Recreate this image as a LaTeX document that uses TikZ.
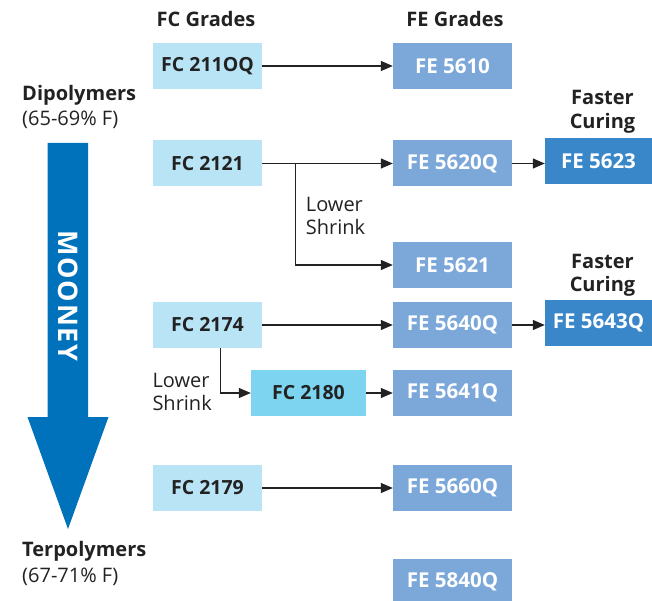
\documentclass[tikz,border=0pt]{standalone}
\usepackage{fontspec}
\setmainfont{Open Sans}
\usetikzlibrary{arrows.meta}
\definecolor{fclight}{HTML}{B8E4F6}
\definecolor{fcmid}{HTML}{7DD4F1}
\definecolor{fegrade}{HTML}{7BA7D9}
\definecolor{fedark}{HTML}{3987C9}
\definecolor{mooneyblue}{HTML}{0071BB}
\definecolor{inkgray}{HTML}{222222}

\begin{document}
\begin{tikzpicture}[x=1pt, y=-1pt]
  \tikzstyle{grade} = [rectangle, minimum height=46pt, inner sep=0pt,
                                    font=\fontsize{19.5}{22}\selectfont\bfseries]
  \tikzstyle{fc} = [grade, fill=fclight, text=inkgray, minimum width=109pt]
  \tikzstyle{fe} = [grade, fill=fegrade, text=white, minimum width=119pt,
                                    font=\fontsize{20.5}{22}\selectfont\bfseries]
  \tikzstyle{fefast} = [fe, fill=fedark, minimum width=107pt]
  \tikzstyle{heading} = [inner sep=0pt, text=inkgray, align=center,
                                    font=\fontsize{20}{23.5}\selectfont\bfseries]
  \tikzstyle{note} = [inner sep=0pt, text=inkgray, align=left,
                                    font=\fontsize{20}{23}\selectfont]
  \tikzstyle{link} = [draw=inkgray, line width=1.2pt, -{Triangle[length=12pt,width=10pt]}]

\useasboundingbox (0,0) rectangle (652,601);

\fill[mooneyblue] (47.5,143) -- (88,143) -- (88,417) -- (108.5,417) -- (68,529)
                  -- (27.5,417) -- (47.5,417) -- cycle;
\node[rotate=-90, text=white, inner sep=0pt,
      font=\fontsize{27}{27}\selectfont\bfseries\addfontfeature{LetterSpace=6}] (mooney) at (68,296) {MOONEY};

\node[heading, anchor=base] (fchead) at (206,26.7) {FC Grades};
\node[heading, anchor=base] (fehead) at (455,26.7) {FE Grades};
\node[heading, anchor=base west] (di) at (22,101) {Dipolymers};
\node[note, anchor=base west] (dipct) at (22,126) {(65-69\% F)};
\node[heading, anchor=base west] (ter) at (22,556.7) {Terpolymers};
\node[note, anchor=base west] (terpct) at (22,582) {(67-71\% F)};

\node[fc] (fc2110q) at (207.5,66) {FC 211OQ};
\node[fc] (fc2121) at (207.5,163.5) {FC 2121};
\node[fc] (fc2174) at (207.5,325) {FC 2174};
\node[fc, fill=fcmid, minimum width=115pt] (fc2180) at (308.5,393) {FC 2180};
\node[fc] (fc2179) at (207.5,488) {FC 2179};

\node[fe] (fe5610) at (452.5,66) {FE 5610};
\node[fe] (fe5620q) at (452.5,163.5) {FE 5620Q};
\node[fe] (fe5621) at (452.5,265) {FE 5621};
\node[fe] (fe5640q) at (452.5,325) {FE 5640Q};
\node[fe] (fe5641q) at (452.5,393) {FE 5641Q};
\node[fe] (fe5660q) at (452.5,488) {FE 5660Q};
\node[fe] (fe5840q) at (452.5,582) {FE 5840Q};

\node[fefast] (fe5623) at (598.5,161) {FE 5623};
\node[fefast] (fe5643q) at (598.5,323) {FE 5643Q};

\node[heading, anchor=base] (fast1) at (602.5,128.5) {Faster\\Curing};
\node[heading, anchor=base] (fast2) at (602.5,291.5) {Faster\\Curing};
\node[note, anchor=base west] (shrink1) at (305.7,234.5) {Lower\\Shrink};
\node[note, anchor=base west] (shrink2) at (152.3,410) {Lower\\Shrink};

\coordinate (split1) at (295.5,163.5);

\draw[link] (fc2110q) -- (fe5610);
\draw[link] (fc2121) -- (fe5620q);
\draw[link] (split1) |- (fe5621.west);
\draw[link] (fe5620q.east) -- (fe5620q.east -| fe5623.west);
\draw[link] (fc2174) -- (fe5640q);
\draw[link] ([xshift=13pt]fc2174.south) |- (fc2180.west);
\draw[link] (fe5640q.east) -- (fe5640q.east -| fe5643q.west);
\draw[link] (fc2180) -- (fe5641q);
\draw[link] (fc2179) -- (fe5660q);
\end{tikzpicture}
\end{document}
